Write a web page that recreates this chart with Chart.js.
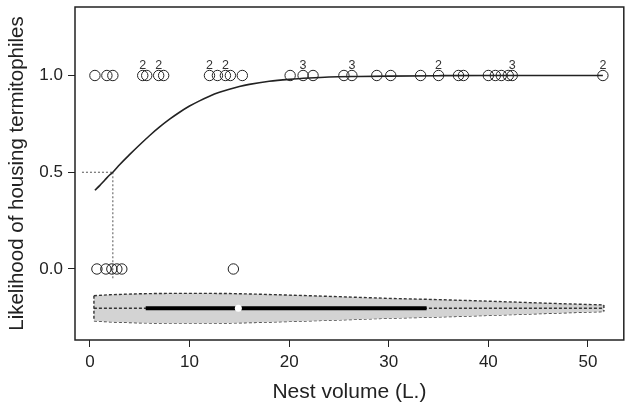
<!DOCTYPE html>
<html><head><meta charset="utf-8">
<script src="https://cdn.jsdelivr.net/npm/chart.js@4"></script>
<style>html,body{margin:0;padding:0;background:#fff}#wrap{width:630px;height:406px}</style>
</head><body><div id="wrap"><canvas id="c" width="630" height="406"></canvas></div>
<script>
// ---- data ----
const presentX = [0.5, 1.7, 2.3, 5.3, 5.7, 6.9, 7.4, 12.0, 12.8, 13.6, 14.1, 15.3, 20.1, 21.4, 22.4, 25.5, 26.3, 28.8, 30.2, 33.2, 35.0, 37.0, 37.5, 40.0, 40.7, 41.3, 42.0, 42.4, 51.5];
const absentX = [0.7, 1.6, 2.2, 2.7, 3.2, 14.4];
const countX = [5.3, 6.9, 12.0, 13.6, 21.4, 26.3, 35.0, 42.4, 51.5];
const countN = [2, 2, 2, 2, 3, 3, 2, 3, 2];
const curveX = [0.5, 1, 1.5, 2, 2.3, 3, 4, 5, 6, 7, 8, 9, 10, 11, 12, 13, 14, 15, 16, 18, 20, 22, 24, 27, 30, 35, 40, 45, 51.5];
const curveY = [0.407, 0.432, 0.46, 0.487, 0.50, 0.54, 0.592, 0.642, 0.69, 0.734, 0.774, 0.81, 0.842, 0.869, 0.893, 0.913, 0.929, 0.943, 0.954, 0.970, 0.980, 0.987, 0.992, 0.995, 0.997, 0.999, 1.0, 1.0, 1.0];
const violinX = [0.4, 2, 5, 8, 10, 12, 14, 16, 20, 25, 30, 34, 38, 42, 46, 49, 51.6];
const violinHalf = [0.065, 0.070, 0.075, 0.077, 0.077, 0.077, 0.076, 0.074, 0.068, 0.060, 0.051, 0.046, 0.040, 0.033, 0.026, 0.021, 0.017];
const violinCenter = -0.203;
const boxStats = [0.4, 5.6, 14.9, 33.8, 51.6]; // min, q1, median, q3, max
const cutoff = [2.3, 0.5];
const cutoffLineStartX = -0.8;
const cutoffLineEndY = -0.057;
const xTicks = [0, 10, 20, 30, 40, 50];
const yTicks = [0, 0.5, 1];

const FONT = "'Liberation Sans', Arial, Helvetica, sans-serif";
const INK = '#222';

const countLabels = {
  id: 'countLabels',
  afterDatasetsDraw(chart) {
    const {ctx, scales: {x, y}} = chart;
    ctx.save();
    ctx.fillStyle = '#333';
    ctx.font = "12.5px " + FONT;
    ctx.textAlign = 'center';
    ctx.textBaseline = 'middle';
    countX.forEach((v, i) => {
      ctx.fillText(String(countN[i]), x.getPixelForValue(v), y.getPixelForValue(1) - 10);
    });
    ctx.restore();
  }
};
const frame = {
  id: 'frame',
  afterDraw(chart) {
    const a = chart.chartArea, ctx = chart.ctx;
    ctx.save();
    ctx.strokeStyle = INK;
    ctx.lineWidth = 1.5;
    ctx.strokeRect(a.left, a.top, a.right - a.left, a.bottom - a.top);
    ctx.restore();
  }
};

const pts = (xs, yv) => xs.map(v => ({x: v, y: yv}));
const circleDs = (data) => ({
  data, showLine: false, pointRadius: 5.2, pointHoverRadius: 5.2,
  pointBorderColor: INK, pointBackgroundColor: 'rgba(0,0,0,0)', pointBorderWidth: 1, order: 0
});
const lineDs = (data, color, width, dash, order, extra) => Object.assign({
  data, showLine: true, pointRadius: 0, borderColor: color, borderWidth: width,
  borderDash: dash, fill: false, order
}, extra || {});

const datasets = [
  circleDs(pts(presentX, 1)),
  circleDs(pts(absentX, 0)),
  lineDs(curveX.map((v, i) => ({x: v, y: curveY[i]})), INK, 1.6, [], 1, {cubicInterpolationMode: 'monotone'}),
  lineDs([{x: cutoffLineStartX, y: cutoff[1]}, {x: cutoff[0], y: cutoff[1]}], '#555', 1, [2, 2], 1),
  lineDs([{x: cutoff[0], y: cutoff[1]}, {x: cutoff[0], y: cutoffLineEndY}], '#555', 1, [2, 2], 1),
  lineDs(violinX.map((v, i) => ({x: v, y: violinCenter + violinHalf[i]})), '#333', 1.4, [3, 2], 6,
    {fill: '+1', backgroundColor: '#d3d3d3'}),
  lineDs(violinX.map((v, i) => ({x: v, y: violinCenter - violinHalf[i]})), '#333', 1.4, [3, 2], 6),
  lineDs([{x: violinX[0], y: violinCenter + violinHalf[0]}, {x: violinX[0], y: violinCenter - violinHalf[0]}], '#333', 1.4, [3, 2], 5),
  lineDs([{x: violinX[violinX.length - 1], y: violinCenter + violinHalf[violinHalf.length - 1]}, {x: violinX[violinX.length - 1], y: violinCenter - violinHalf[violinHalf.length - 1]}], '#333', 1.4, [3, 2], 5),
  lineDs([{x: boxStats[0], y: violinCenter}, {x: boxStats[4], y: violinCenter}], '#333', 1.4, [3, 2], 4),
  lineDs([{x: boxStats[1], y: violinCenter}, {x: boxStats[3], y: violinCenter}], '#000', 4, [], 3),
  {data: [{x: boxStats[2], y: violinCenter}], showLine: false, pointRadius: 3.5, pointBackgroundColor: '#fff', pointBorderWidth: 0, pointBorderColor: '#fff', order: 2}
];

new Chart(document.getElementById('c'), {
  type: 'scatter',
  data: {datasets},
  options: {
    responsive: false, animation: false, devicePixelRatio: 1,
    layout: {padding: {top: 7, right: 4, left: 0, bottom: 0}},
    plugins: {legend: {display: false}, tooltip: {enabled: false}},
    scales: {
      x: {
        type: 'linear', min: -1.5, max: 53.6,
        afterBuildTicks: s => { s.ticks = xTicks.map(v => ({value: v})); },
        afterFit: s => { s.height = 66; s.paddingLeft = 0; s.paddingRight = 0; },
        grid: {display: true, drawOnChartArea: false, drawTicks: true, tickLength: 7, tickColor: INK, tickWidth: 1},
        border: {display: false},
        ticks: {font: {family: FONT, size: 17}, color: INK, padding: 5, autoSkip: false, maxRotation: 0, callback: v => String(v)},
        title: {display: true, text: 'Nest volume (L.)', font: {family: FONT, size: 21}, color: INK, padding: {top: 0, bottom: 1}}
      },
      y: {
        type: 'linear', min: -0.367, max: 1.354,
        afterBuildTicks: s => { s.ticks = yTicks.map(v => ({value: v})); },
        afterFit: s => { s.width = 75; s.paddingTop = 0; s.paddingBottom = 0; },
        grid: {display: true, drawOnChartArea: false, drawTicks: true, tickLength: 7, tickColor: INK, tickWidth: 1},
        border: {display: false},
        ticks: {font: {family: FONT, size: 17}, color: INK, padding: 5, callback: v => Number(v).toFixed(1)},
        title: {display: true, text: 'Likelihood of housing termitophiles', font: {family: FONT, size: 20.5}, color: INK, padding: {top: 5, bottom: 0}}
      }
    }
  },
  plugins: [countLabels, frame]
});
</script></body></html>
